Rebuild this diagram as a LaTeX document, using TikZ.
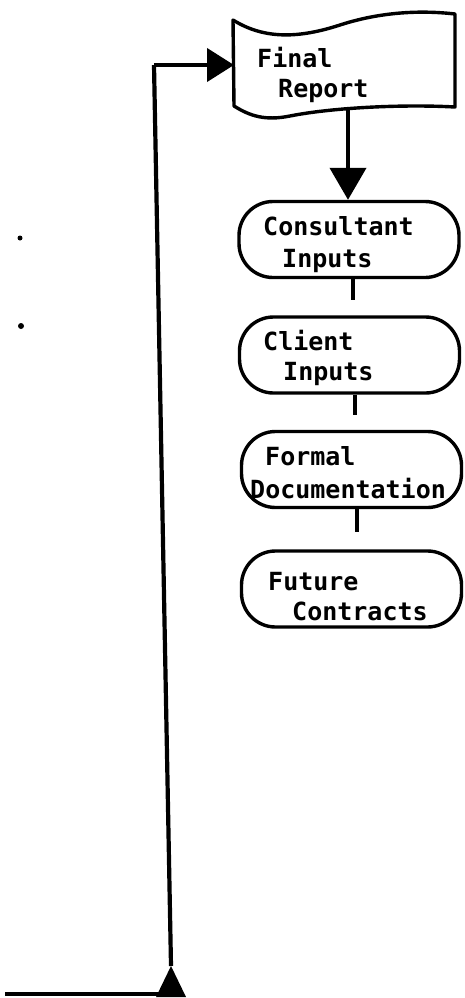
\documentclass[tikz,border=0pt]{standalone}
\usepackage{fontspec}
\newfontfamily\flowmono{DejaVu Sans Mono}
\usetikzlibrary{arrows.meta}
\begin{document}
\begin{tikzpicture}[x=1pt,y=-1pt,
  box/.style={draw,line width=3.4pt,rounded corners=34pt,minimum width=220pt,minimum height=76pt,inner sep=0pt},
  lbl/.style={anchor=base west,inner sep=0pt,font=\flowmono\bfseries\fontsize{25}{28}\selectfont},
  link/.style={line width=3.4pt},
  thick line/.style={line width=4.2pt},
  dot/.style={fill,circle,inner sep=0pt,minimum size=6pt}]
\useasboundingbox (0,0) rectangle (464,998);
% Final Report (document shape)
\draw[line width=3.4pt,line join=round]
  (233,20) .. controls (265,40) and (300,38) .. (340,25)
  .. controls (380,12) and (420,10) .. (455,14)
  -- (455,107)
  .. controls (400,104) and (330,108) .. (290,116)
  .. controls (265,121) and (250,116) .. (234,106) -- cycle;
\coordinate (frw) at (234,65);
\coordinate (frs) at (348,110);
\node[lbl] (t1) at (257,67) {Final};
\node[lbl] (t2) at (278,97) {Report};
% rounded process boxes
\node[box] (c1) at (349,239.5) {};
\node[box] (c2) at (349.5,355) {};
\node[box] (c3) at (351.5,469.5) {};
\node[box] (c4) at (351.5,589) {};
\node[lbl] (l1a) at (263,235) {Consultant};
\node[lbl] (l1b) at (282,267) {Inputs};
\node[lbl] (l2a) at (263,350) {Client};
\node[lbl] (l2b) at (283,380) {Inputs};
\node[lbl] (l3a) at (265,465) {Formal};
\node[lbl] (l3b) at (250,498) {Documentation};
\node[lbl] (l4a) at (268,590) {Future};
\node[lbl] (l4b) at (292,620) {Contracts};
% arrow into Consultant Inputs
\draw[thick line,-{Triangle[length=32pt,width=36pt]}] (frs) -- (c1.north -| frs);
% short links between boxes
\draw[link] (c1.south -| 353,0) -- (353,300);
\draw[link] (c2.south -| 355,0) -- (355,415);
\draw[link] (c3.south -| 357,0) -- (357,532);
% feedback line on the left
\coordinate (bt) at (171,966);
\coordinate (tl) at (154,65);
\coordinate (bl) at (5,994);
\draw[thick line] (bt) -- (tl);
\draw[thick line,-{Triangle[length=27pt,width=33pt]}] (tl) -- (frw);
\draw[thick line] (bl) -- (165,994);
\fill (bt) -- (186,997) -- (156,997) -- cycle;
% stray marks
\node[dot,minimum size=5pt] (d1) at (20,238) {};
\node[dot] (d2) at (21,326) {};
\end{tikzpicture}
\end{document}
